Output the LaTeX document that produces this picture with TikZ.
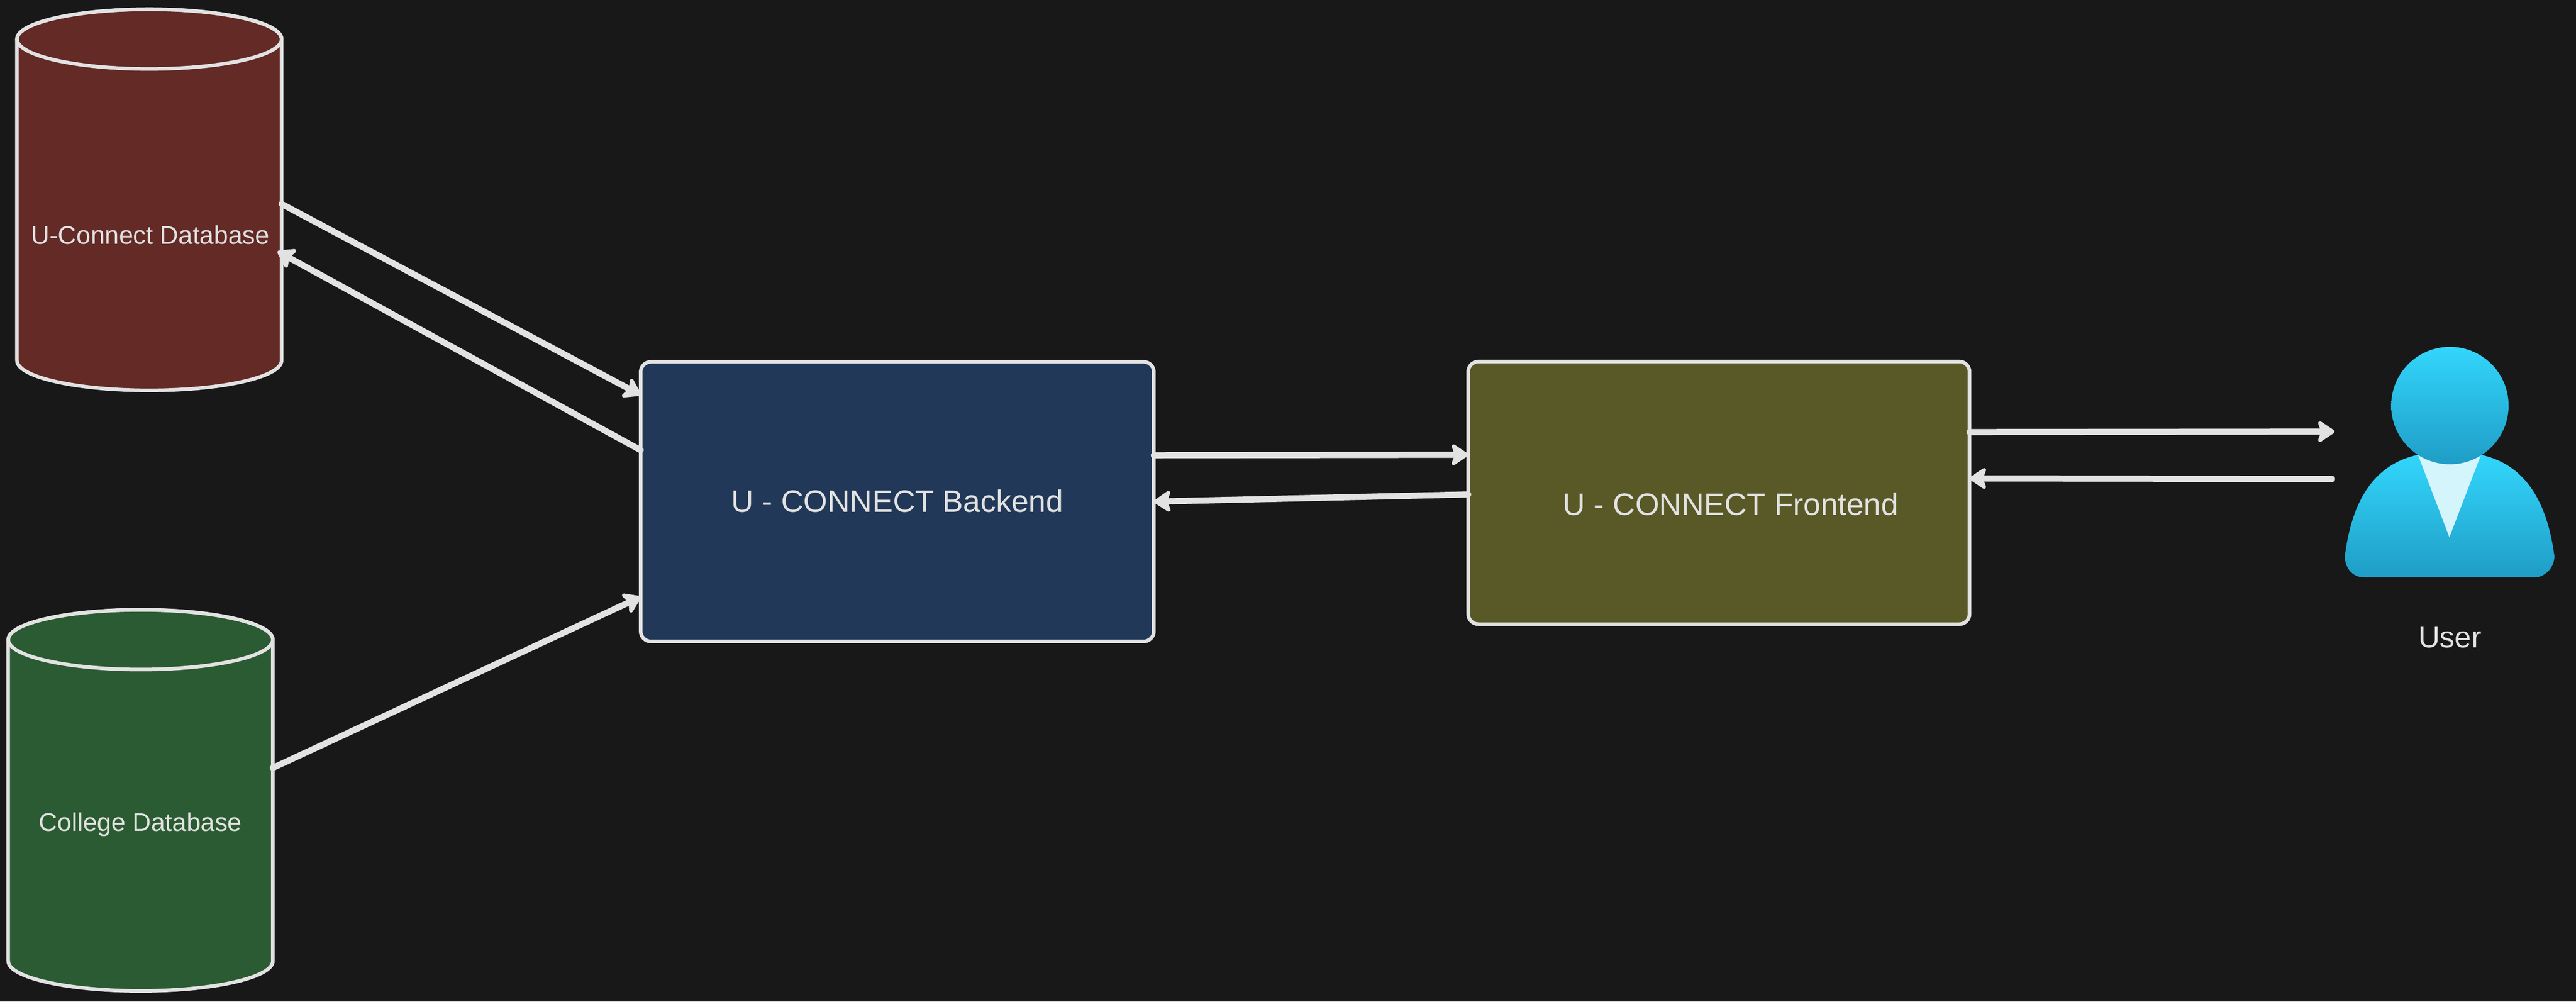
\documentclass[tikz,border=0pt]{standalone}
\usepackage{fontspec}
\setmainfont{Liberation Sans}
\usetikzlibrary{arrows.meta,calc}
\definecolor{bgdark}{HTML}{181818}
\definecolor{strokegray}{HTML}{E2E2E2}
\definecolor{dbred}{HTML}{632A26}
\definecolor{dbgreen}{HTML}{2B5B32}
\definecolor{boxblue}{HTML}{223858}
\definecolor{boxolive}{HTML}{585926}
\definecolor{usertop}{HTML}{33D6FC}
\definecolor{userbottom}{HTML}{1F9DC6}
\definecolor{userneck}{HTML}{D5F5FD}
\def\dbcylinder(#1)(#2){
	\filldraw[cylline, fill=#2] ([yshift=-0.58cm]#1.north west) arc (180:0:2.57 and 0.58) -- ([yshift=0.58cm]#1.south east) arc (0:-180:2.57 and 0.58) -- cycle;
	\draw[cylline] ([yshift=-0.58cm]#1.north) ellipse (2.57 and 0.58);
}
\tikzset{
	cylline/.style={draw=strokegray, line width=0.07cm},
	dbbody/.style={rectangle, minimum width=5.14cm, minimum height=7.40cm, inner sep=0pt, outer sep=0pt},
	appbox/.style={rectangle, rounded corners=0.2cm, draw=strokegray, line width=0.07cm, inner sep=0pt, outer sep=0pt},
	dblabel/.style={text=strokegray, font=\fontsize{14.1}{17}\selectfont},
	boxlabel/.style={text=strokegray, font=\fontsize{17.1}{20}\selectfont},
	flow/.style={draw=strokegray, line width=0.12cm, line cap=round, -{Stealth[length=0.38cm,width=0.5cm,inset=0.09cm,round]}}
}

\begin{document}
\begin{tikzpicture}
	\fill[bgdark] (0, 0) rectangle (50.04, 19.45);
	\useasboundingbox (0, 0) rectangle (50.04, 19.45);

	% databases
	\node[dbbody] (ucdb) at (2.90, 15.57) {};
	\dbcylinder(ucdb)(dbred)
	\node[dblabel] (ucdblabel) at (2.92, 14.89) {U-Connect Database};
	\node[dbbody] (cgdb) at (2.73, 3.91) {};
	\dbcylinder(cgdb)(dbgreen)
	\node[dblabel] (cgdblabel) at (2.73, 3.44) {College Database};

	% boxes
	\node[appbox, fill=boxblue, minimum width=9.97cm, minimum height=5.43cm] (backend) at (17.43, 9.71) {};
	\node[boxlabel] (backendlabel) at (17.43, 9.72) {U - CONNECT Backend};
	\node[appbox, fill=boxolive, minimum width=9.74cm, minimum height=5.10cm] (frontend) at (33.39, 9.88) {};
	\node[boxlabel] (frontendlabel) at (33.62, 9.66) {U - CONNECT Frontend};

	% user
	\coordinate (userto) at (45.35, 11.07);
	\coordinate (userfrom) at (45.30, 10.15);
	\shade[top color=usertop, bottom color=userbottom] (45.55, 8.65) .. controls (45.70, 9.85) and (46.20, 10.45) .. (46.97, 10.62) -- (48.19, 10.62) .. controls (48.96, 10.45) and (49.46, 9.85) .. (49.62, 8.65) .. controls (49.62, 8.40) and (49.40, 8.24) .. (49.25, 8.24) -- (45.92, 8.24) .. controls (45.72, 8.24) and (45.55, 8.40) .. (45.55, 8.65) -- cycle;
	\fill[userneck] (46.97, 10.62) -- (48.19, 10.61) -- (47.58, 9.02) -- cycle;
	\shade[top color=usertop, bottom color=userbottom] (47.59, 11.575) circle (1.14);
	\node[text=strokegray, font=\fontsize{16.5}{20}\selectfont] (userlabel) at (47.59, 7.07) {User};

	% arrows
	\draw[flow] ([yshift=-0.08cm]ucdb.east) -- ([yshift=2.07cm]backend.west);
	\draw[flow] ([yshift=1.00cm]backend.west) -- ([xshift=-0.08cm, yshift=-1.00cm]ucdb.east);
	\draw[flow] ([yshift=0.63cm]cgdb.east) -- ([yshift=-1.85cm]backend.west);
	\draw[flow] ([yshift=0.90cm]backend.east) -- ([yshift=0.74cm]frontend.west);
	\draw[flow] ([yshift=-0.03cm]frontend.west) -- (backend.east);
	\draw[flow] ([yshift=1.18cm]frontend.east) -- (userto);
	\draw[flow] (userfrom) -- ([yshift=0.28cm]frontend.east);
\end{tikzpicture}
\end{document}
